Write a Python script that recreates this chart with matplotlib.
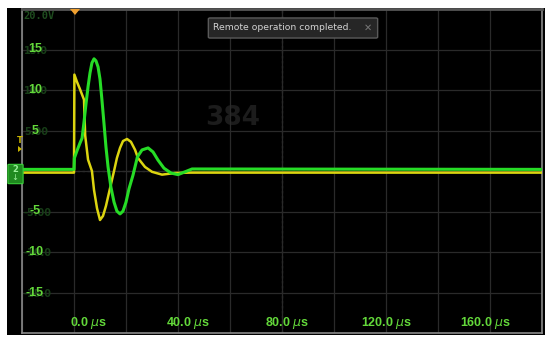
import matplotlib
matplotlib.use("Agg")
import matplotlib.pyplot as plt
from matplotlib.patches import Rectangle, FancyBboxPatch, Polygon

W, H = 550, 342

# channel traces (time in us, volts)
yellow_t = [-20, 0, 0.15, 1.15, 2.3, 3.85, 4.1, 4.3, 5.4, 6.9, 7.7, 8.85, 10.0, 11.15, 12.3,
            13.45, 14.6, 15.4, 16.5, 17.7, 18.85, 20.4, 21.9, 23.5, 24.6, 27.3, 30.0, 33.85,
            38.8, 44.6, 180]
yellow_v = [-0.2, -0.2, 11.9, 11.0, 10.1, 8.8, 6.3, 4.4, 1.4, 0.0, -2.35, -4.6, -6.05, -5.55,
            -4.3, -2.7, -1.1, 0.0, 1.6, 2.85, 3.7, 3.95, 3.6, 2.6, 1.6, 0.5, -0.1, -0.45,
            -0.25, -0.2, -0.2]

green_t = [-20, 0, 0.15, 1.15, 2.3, 3.1, 3.85, 4.6, 5.4, 6.15, 6.9, 7.7, 8.45, 9.25, 10.0,
           10.75, 11.55, 12.3, 13.1, 14.2, 15.4, 16.5, 17.7, 18.85, 20.0, 21.15, 22.7, 24.4,
           26.15, 28.5, 30.4, 32.3, 34.6, 37.3, 40.0, 42.7, 45.4, 180]
green_v = [0.2, 0.2, 1.6, 2.5, 3.45, 4.05, 6.05, 8.25, 10.4, 12.1, 13.35, 13.85, 13.6, 12.85,
           11.35, 8.75, 5.8, 2.95, 0.5, -2.0, -3.85, -4.95, -5.3, -4.95, -3.85, -2.2, -0.5,
           1.75, 2.6, 2.85, 2.35, 1.35, 0.35, -0.25, -0.45, -0.1, 0.25, 0.2]

x_ticks = [0, 40, 80, 120, 160]
x_labels = [r"0.0 $\mu$s", r"40.0 $\mu$s", r"80.0 $\mu$s", r"120.0 $\mu$s", r"160.0 $\mu$s"]
y_ticks = [15, 10, 5, -5, -10, -15]
y_labels = ["15", "10", "5", "-5", "-10", "-15"]
y_dim_labels = ["15.0", "10.0", "5.00", "-5.00", "-10.0", "-15.0"]


def fx(x, y):
    return x / W, 1 - y / H


fig = plt.figure(figsize=(W / 100, H / 100), dpi=100, facecolor="white")

# black scope screen behind everything
fig.patches.append(Rectangle(fx(7, 335), 538 / W, 327 / H, transform=fig.transFigure,
                             facecolor="black", edgecolor="none", zorder=-5))

ax = fig.add_axes([22 / W, 9 / H, 520 / W, 324 / H])
ax.set_zorder(1)
ax.set_facecolor("black")
ax.set_xlim(-20, 180)
ax.set_ylim(-20, 20)
ax.set_xticks(range(-20, 181, 20))
ax.set_yticks(range(-20, 21, 5))
ax.tick_params(length=0, labelbottom=False, labelleft=False)
ax.grid(True, color="#2a2a2a", lw=0.9)
ax.axvline(80, color="#444444", lw=0.9, ls=(0, (2, 2)), zorder=1)
ax.axhline(0, color="#444444", lw=0.9, ls=(0, (2, 2)), zorder=1)
for side in ["left", "bottom", "right"]:
    ax.spines[side].set_color("#8a8a8a")
    ax.spines[side].set_linewidth(1.2)
ax.spines["top"].set_color("#555555")
ax.spines["top"].set_linewidth(2)

# faint watermark
ax.text(61, 6.5, "384", color="#1c1c1c", fontsize=19, fontweight="bold",
        ha="center", va="center", zorder=1)

ax.plot(yellow_t, yellow_v, color="#dcd410", lw=1.8, solid_joinstyle="round", zorder=3)
ax.plot(green_t, green_v, color="#26dc26", lw=2.2, solid_joinstyle="round", zorder=4)

lbl = dict(color="#63d83a", fontsize=9, fontweight="bold", family="Liberation Sans")
for v, s, d in zip(y_ticks, y_labels, y_dim_labels):
    ax.text(-19.3, v - 0.15, d, color="#173d17", fontsize=7, fontweight="bold",
            ha="left", va="center", zorder=5)
    ax.text(-15, v, s, ha="center", va="center", zorder=6, **lbl)
for t, s in zip(x_ticks, x_labels):
    ax.text(t * 0.953 + 5.8, -18.8, s, ha="center", va="center", zorder=6, **lbl)

ax.text(-19.5, 19.1, "20.0V", color="#1f4d1f", fontsize=7.5, fontweight="bold",
        family="DejaVu Sans Mono", ha="left", va="center", zorder=5)

# trigger position marker at top
fig.patches.append(Polygon([fx(70, 9), fx(80, 9), fx(75, 15)], closed=True,
                           transform=fig.transFigure, facecolor="#f0a030",
                           edgecolor="none", zorder=10))

# trigger level marker
fig.text(*fx(20, 141), "T", color="#c8b400", fontsize=6, fontweight="bold",
         ha="center", va="center", zorder=11)
fig.patches.append(Polygon([fx(18, 146), fx(18, 152), fx(22, 149)], closed=True,
                           transform=fig.transFigure, facecolor="#c8b400",
                           edgecolor="none", zorder=10))

# channel ground marker
fig.patches.append(FancyBboxPatch(fx(9, 183), 13 / W, 18 / H, boxstyle="round,pad=0.002",
                                  transform=fig.transFigure, facecolor="#1f8a1f",
                                  edgecolor="#3ad03a", lw=0.8, zorder=10))
fig.text(*fx(15, 170), "2", color="#9bf09b", fontsize=6, fontweight="bold",
         ha="center", va="center", zorder=11)
fig.text(*fx(15, 178), "\u2193", color="#9bf09b", fontsize=6, ha="center", va="center",
         zorder=11)

# notification toast
fig.patches.append(FancyBboxPatch(fx(210, 37), 166 / W, 18 / H, boxstyle="round,pad=0.003",
                                  transform=fig.transFigure, facecolor="#262626",
                                  edgecolor="#5a5a5a", lw=1, zorder=10))
fig.text(*fx(213, 28), "Remote operation completed.", color="#d2d2d2", fontsize=6.7,
         ha="left", va="center", zorder=11)
fig.text(*fx(368, 28), "\u2715", color="#777777", fontsize=7, ha="center", va="center",
         zorder=11)

fig.savefig("out.png", dpi=100, facecolor="white")
